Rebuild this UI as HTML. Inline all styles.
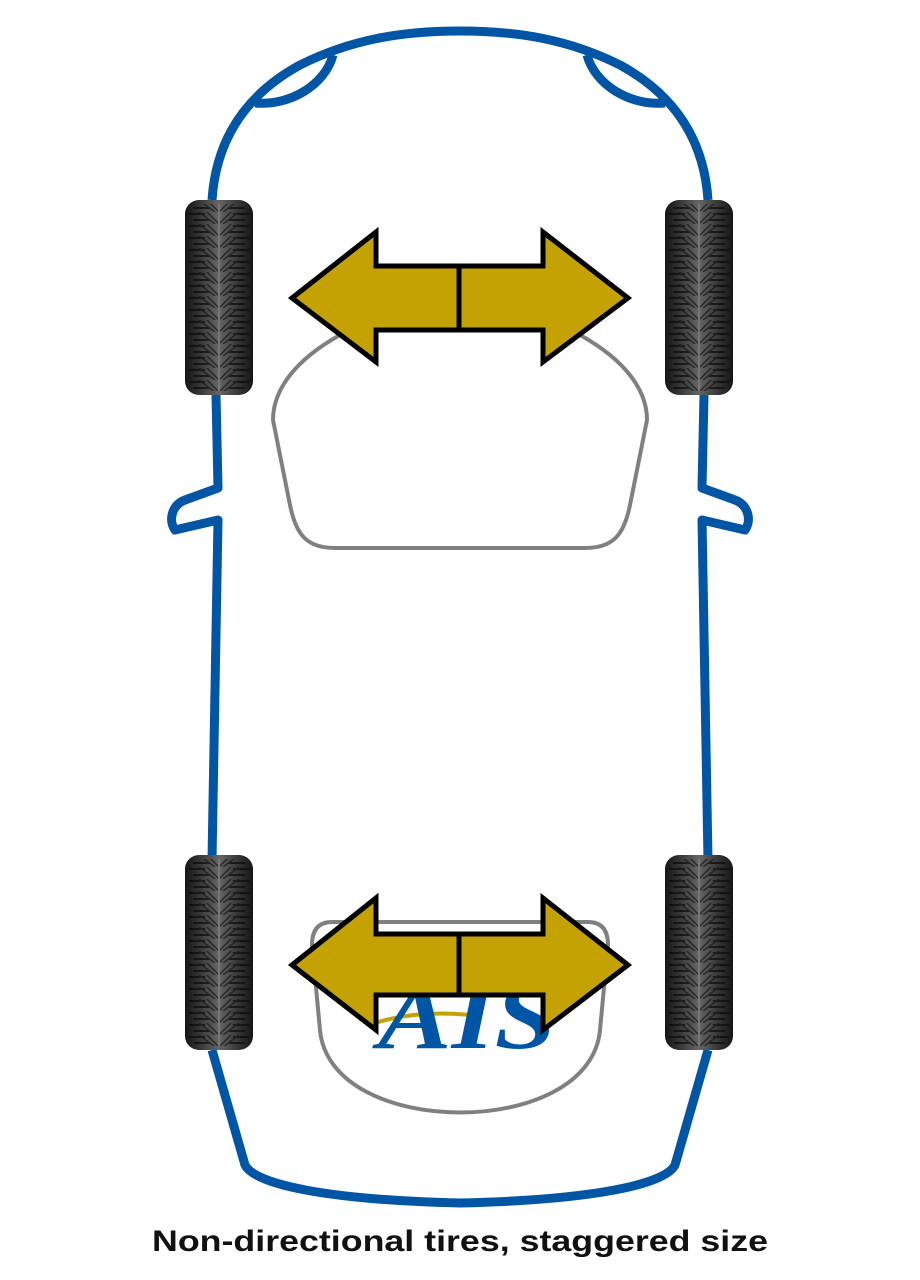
<!DOCTYPE html>
<html><head><meta charset="utf-8"><style>html,body{margin:0;padding:0;background:#fff}svg{display:block}</style></head><body>
<svg width="920" height="1280" viewBox="0 0 920 1280" xmlns="http://www.w3.org/2000/svg">
<defs>
<linearGradient id="tg" x1="0" x2="1" y1="0" y2="0">
<stop offset="0" stop-color="#151515"/><stop offset="0.2" stop-color="#333"/><stop offset="0.5" stop-color="#666"/><stop offset="0.8" stop-color="#333"/><stop offset="1" stop-color="#151515"/>
</linearGradient>
<pattern id="tread" width="68" height="12" patternUnits="userSpaceOnUse">
<path d="M4 2 L20 2 M48 2 L64 2 M8 8 L24 8 M44 8 L60 8" stroke="#0a0a0a" stroke-width="2"/>
<path d="M22 0 L34 12 M46 0 L34 12 M14 0 L30 12 M54 0 L38 12" stroke="#151515" stroke-width="1.5"/>
</pattern>
<g id="tire">
<rect x="0" y="0" width="68" height="195" rx="14" fill="url(#tg)"/>
<rect x="0" y="4" width="68" height="187" rx="12" fill="url(#tread)" opacity="0.7"/>
<line x1="34" y1="4" x2="34" y2="191" stroke="#777" stroke-width="2"/>
</g>
</defs>
<g fill="none" stroke="#0055a5" stroke-width="9" stroke-linejoin="round">
<path d="M212,200 C216,140 245,95 300,65 C350,40 400,31 460,31 C520,31 570,40 620,65 C675,95 704,140 708,200"/>
<path d="M255,103 C290,106 325,85 333,55"/>
<path d="M665,103 C630,106 595,85 587,55"/>
<path d="M212,860 L218,520 L175,530 C168,520 172,505 185,500 L218,488 L216,395"/>
<path d="M708,860 L702,520 L745,530 C752,520 748,505 735,500 L702,488 L704,395"/>
<path d="M212,1050 L245,1165 C255,1185 330,1200 460,1203 C590,1200 665,1185 675,1165 L708,1050"/>
</g>
<g fill="none" stroke="#808080" stroke-width="4">
<path d="M340,335 C295,360 273,390 273,420 L290,505 C296,535 307,548 335,548 L585,548 C613,548 624,535 630,505 L647,420 C647,390 625,360 580,335"/>
<path d="M332,922 L588,922 Q608,922 608,945 L600,1030 C590,1140 330,1140 320,1030 L312,945 Q312,922 332,922 Z"/>
</g>
<path d="M378,1022 Q420,1010 470,1015" stroke="#c4a204" stroke-width="4" fill="none"/>
<text x="378" y="1048" font-family="Liberation Serif, serif" font-style="italic" font-weight="bold" font-size="92" fill="#0055a5" textLength="178" lengthAdjust="spacingAndGlyphs">AIS</text>
<use href="#tire" x="185" y="200"/><use href="#tire" x="665" y="200"/>
<use href="#tire" x="185" y="855"/><use href="#tire" x="665" y="855"/>
<g fill="#c4a204" stroke="#000" stroke-width="5" stroke-linejoin="miter">
<path d="M292,298 L376,232 L376,266 L543,266 L543,232 L628,298 L543,362 L543,330 L376,330 L376,362 Z"/>
<line x1="459" y1="266" x2="459" y2="330"/>
<path d="M292,965 L376,898 L376,934 L543,934 L543,898 L628,965 L543,1030 L543,995 L376,995 L376,1030 Z"/>
<line x1="459" y1="934" x2="459" y2="995"/>
</g>
<text x="460" y="1251" text-anchor="middle" font-family="Liberation Sans, sans-serif" font-weight="bold" font-size="30" fill="#111" textLength="616" lengthAdjust="spacingAndGlyphs">Non-directional tires, staggered size</text>
</svg>
</body></html>
